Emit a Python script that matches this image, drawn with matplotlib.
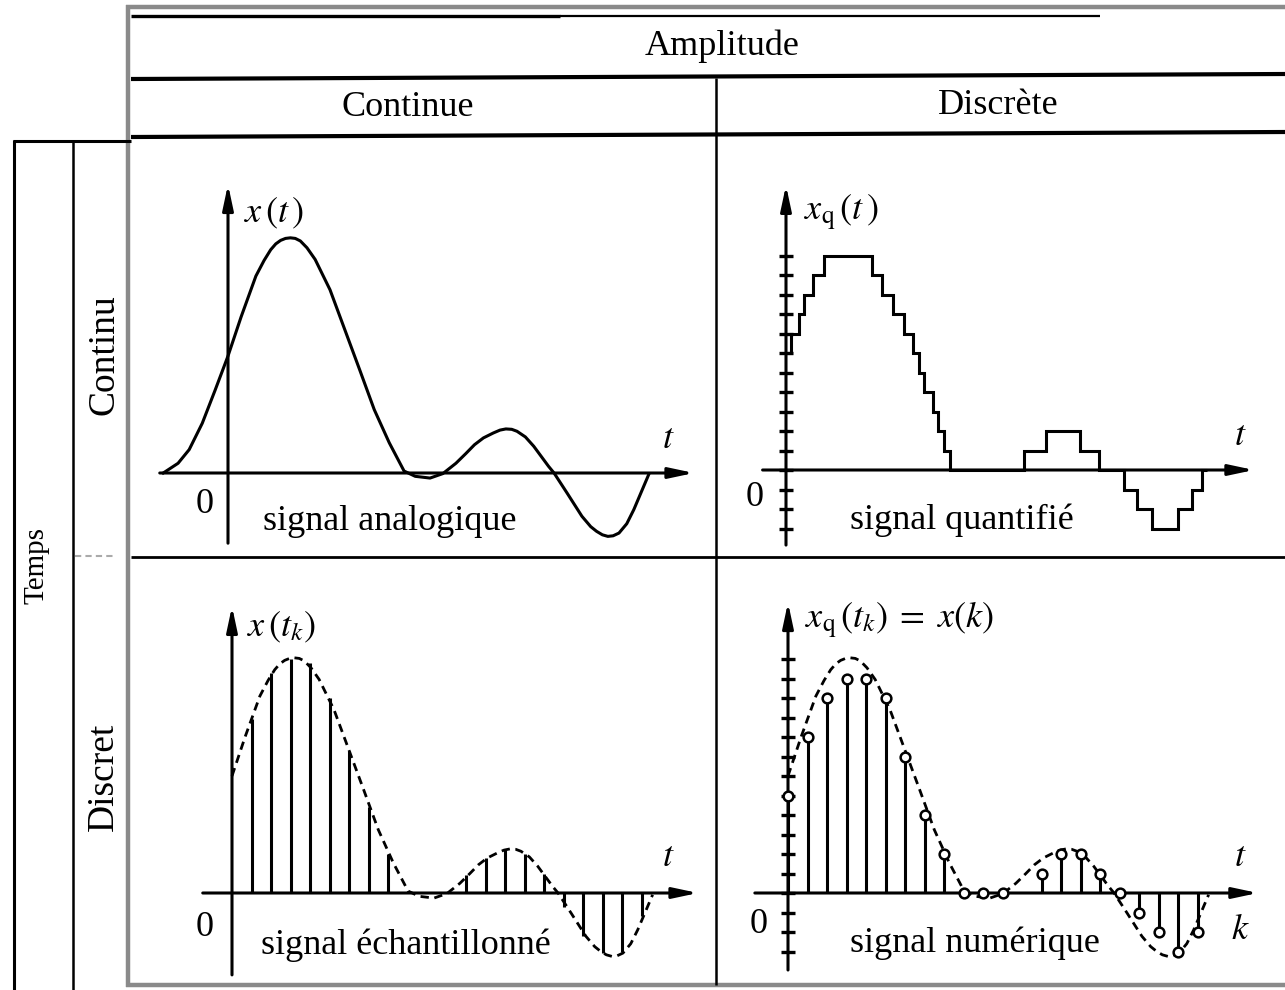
import matplotlib.pyplot as plt
from matplotlib.lines import Line2D

plt.rcParams['font.family'] = ['Liberation Serif', 'DejaVu Serif']
plt.rcParams['mathtext.fontset'] = 'stix'

# analog signal x(t)
# (t in sampling periods, x in quantisation steps)
curve_t = [-3.32, -2.56, -1.99, -1.32, -0.66, 0.0, 0.67, 1.43, 1.85, 2.19, 2.45, 2.7,
           2.95, 3.2, 3.45, 3.71, 4.05, 4.47, 5.23, 5.99, 6.75, 7.5, 8.27, 9.03, 9.6,
           10.36, 11.02, 11.69, 12.2, 12.64, 13.1, 13.6, 13.95, 14.25, 14.55, 14.82,
           15.25, 15.68, 16.44, 16.72, 17.39, 18.15, 18.6, 18.9, 19.2, 19.48, 19.75,
           20.05, 20.45, 20.81, 21.57]
curve_x = [0.0, 0.5, 1.2, 2.55, 4.25, 6.0, 8.0, 10.1, 10.9, 11.45, 11.75, 11.93,
           12.03, 12.06, 12.03, 11.9, 11.55, 10.95, 9.4, 7.35, 5.3, 3.25, 1.55, 0.1,
           -0.17, -0.26, -0.03, 0.5, 1.0, 1.45, 1.8, 2.05, 2.2, 2.26, 2.24, 2.14,
           1.85, 1.37, 0.34, 0.0, -1.03, -2.22, -2.75, -2.99, -3.17, -3.25, -3.22,
           -3.08, -2.6, -1.88, -0.09]

# sampled signal x(t_k)
sample_k = [1, 2, 3, 4, 5, 6, 7, 8, 12, 13, 14, 15, 16, 17, 18, 19, 20, 21]
sample_x = [8.9, 11.3, 12.0, 11.8, 10.0, 7.3, 4.4, 2.0, 0.9, 1.8, 2.2, 2.0, 1.0,
            -0.7, -2.2, -3.1, -3.0, -1.2]

# quantised signal x_q(t): step edges and levels
quant_edges = [0, 0.28, 0.65, 0.93, 1.36, 1.96, 4.42, 4.94, 5.50, 6.06, 6.53, 6.81,
               7.09, 7.56, 7.78, 8.08, 8.40, 12.22, 13.34, 15.07, 16.04, 17.35, 18.00,
               18.75, 20.11, 20.80, 21.32, 21.6]
quant_levels = [6, 7, 8, 9, 10, 11, 10, 9, 8, 7, 6, 5, 4, 3, 2, 1, 0, 1, 2, 1, 0,
                -1, -2, -3, -2, -1, 0]

# digital signal x(k)
digit_k = [0, 1, 2, 3, 4, 5, 6, 7, 8, 9, 10, 11, 13, 14, 15, 16, 17, 18, 19, 20, 21]
digit_x = [5, 8, 10, 11, 11, 10, 7, 4, 2, 0, 0, 0, 1, 2, 2, 1, 0, -1, -2, -3, -2]

ticks_q = list(range(-3, 12))
ticks_n = list(range(-3, 13))

W, H = 1285, 990
STEP = 19.5  # pixels per unit on both axes
fig = plt.figure(figsize=(W / 100, H / 100), dpi=100)


def fline(xs, ys, lw, color='k', **kw):
    fig.add_artist(Line2D([x / W for x in xs], [1 - y / H for y in ys],
                          transform=fig.transFigure, lw=lw, color=color,
                          solid_capstyle='butt', **kw))


def ftext(x, y, s, size, rot=0):
    fig.text(x / W, 1 - y / H, s, fontsize=size, rotation=rot,
             ha='center', va='center')


def panel(ox, oy, t0, t1, y0, y1):
    left, right = ox + t0 * STEP, ox + t1 * STEP
    bottom, top = oy - y0 * STEP, oy - y1 * STEP
    ax = fig.add_axes([left / W, 1 - bottom / H, (right - left) / W, (bottom - top) / H])
    ax.set_xlim(t0, t1)
    ax.set_ylim(y0, y1)
    ax.axis('off')
    return ax


def axes_arrows(ax, xa, xb, ya, yb):
    kw = dict(arrowstyle='-|>,head_length=0.75,head_width=0.16', lw=2.2, color='k',
              shrinkA=0, shrinkB=0, mutation_scale=20)
    ax.annotate('', xy=(xb, 0), xytext=(xa, 0), arrowprops=kw, annotation_clip=False)
    ax.annotate('', xy=(0, yb), xytext=(0, ya), arrowprops=kw, annotation_clip=False)


# ---- table frame ----
gray = '#8a8a8a'
fline([128, 128], [5, 987], 3.2, gray)
fline([126, 1285], [7, 7], 3.2, gray)
fline([126, 1285], [985, 985], 3.2, gray)
fline([131, 560], [16, 16], 2.4)
fline([560, 1100], [16, 16], 1.6)
fline([131, 1285], [79, 74], 3.0)
fline([131, 1285], [137, 132], 3.0)
fline([716, 716], [78, 985], 1.8)
fline([131, 1285], [557, 557], 2.0)
fline([75, 115], [556, 556], 1.5, '#aaaaaa', linestyle=(0, (3, 2)))
fline([14, 14], [140, 990], 2.2)
fline([13, 131], [141, 141], 2.2)
fline([73, 73], [140, 990], 1.8)

ftext(722, 46, 'Amplitude', 26)
ftext(408, 107, 'Continue', 26)
ftext(998, 105, 'Discrète', 26)
ftext(36, 565, 'Temps', 21, 90)
ftext(104, 355, 'Continu', 27, 90)
ftext(104, 777, 'Discret', 27, 90)

# ---- top-left: signal analogique ----
ax = panel(228, 473, -4, 25, -4.5, 15.5)
axes_arrows(ax, -3.5, 23.9, -3.6, 14.8)
ax.plot(curve_t, curve_x, color='k', lw=2.2, solid_joinstyle='round', clip_on=False)
ax.text(0.8, 13.3, r'$x\,(t\,)$', fontsize=26, va='center')
ax.text(22.6, 1.7, r'$t$', fontsize=26, ha='center', va='center')
ax.text(-1.2, -1.6, '0', fontsize=26, ha='center', va='center')
ax.text(8.3, -2.5, 'signal analogique', fontsize=26, ha='center', va='center')

# ---- top-right: signal quantifié ----
ax = panel(786, 470, -2, 25, -4.5, 15.5)
axes_arrows(ax, -1.2, 24.0, -3.85, 14.6)
ax.plot([0] * len(ticks_q), ticks_q, ls='none', marker='_', ms=10, mew=2.4,
        color='k', clip_on=False)
ax.stairs(quant_levels, quant_edges, baseline=None, color='k', lw=2.2, clip_on=False)
ax.text(0.9, 13.2, r'$x_{\mathrm{q}}\,(t\,)$', fontsize=26, va='center')
ax.text(23.3, 1.7, r'$t$', fontsize=26, ha='center', va='center')
ax.text(-1.6, -1.4, '0', fontsize=26, ha='center', va='center')
ax.text(9.0, -2.6, 'signal quantifié', fontsize=26, ha='center', va='center')

# ---- bottom-left: signal échantillonné ----
ax = panel(232, 893, -2, 25, -4.5, 15.5)
axes_arrows(ax, -1.5, 23.9, -4.2, 14.7)
env_t = [t for t in curve_t if t >= 0]
env_x = [x for t, x in zip(curve_t, curve_x) if t >= 0]
ax.plot(env_t, env_x, color='k', lw=2.0, ls=(0, (3, 2)), clip_on=False)
ax.vlines(sample_k, 0, sample_x, color='k', lw=2.2, clip_on=False)
ax.text(0.75, 13.6, r'$x\,(t_k)$', fontsize=26, va='center')
ax.text(22.4, 1.8, r'$t$', fontsize=26, ha='center', va='center')
ax.text(-1.4, -1.75, '0', fontsize=26, ha='center', va='center')
ax.text(8.9, -2.7, 'signal échantillonné', fontsize=26, ha='center', va='center')

# ---- bottom-right: signal numérique ----
ax = panel(788, 893, -2, 25, -4.5, 15.5)
axes_arrows(ax, -1.7, 24.1, -3.95, 14.9)
ax.plot([0] * len(ticks_n), ticks_n, ls='none', marker='_', ms=10, mew=2.4,
        color='k', clip_on=False)
ax.plot(env_t, env_x, color='k', lw=2.0, ls=(0, (3, 2)), clip_on=False)
ax.vlines(digit_k, 0, digit_x, color='k', lw=2.2, clip_on=False)
ax.plot(digit_k, digit_x, ls='none', marker='o', ms=7, mfc='white', mec='k',
        mew=1.8, clip_on=False, zorder=4)
ax.text(0.85, 14.0, r'$x_{\mathrm{q}}\,(t_k)\;=\;x(k)$', fontsize=26, va='center')
ax.text(23.2, 1.8, r'$t$', fontsize=26, ha='center', va='center')
ax.text(23.2, -1.9, r'$k$', fontsize=26, ha='center', va='center')
ax.text(-1.5, -1.6, '0', fontsize=26, ha='center', va='center')
ax.text(9.6, -2.6, 'signal numérique', fontsize=26, ha='center', va='center')

fig.savefig('out.png', dpi=100, facecolor='white')
